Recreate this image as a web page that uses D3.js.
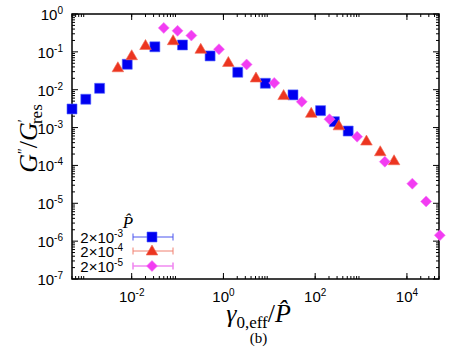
<!DOCTYPE html>
<html>
<head>
<meta charset="utf-8">
<script src="https://cdn.jsdelivr.net/npm/d3@7"></script>
<style>
  body { margin: 0; background: #fff; }
  svg { display: block; }
</style>
</head>
<body>
<div id="chart"></div>
<script>
// data
const xBlue = [5e-4, 1e-3, 2e-3, 8e-3, 0.032, 0.128, 0.512, 2.05, 8.2, 32.8, 131, 262, 524];
const yBlue = [3.1e-3, 5.6e-3, 0.0109, 0.047, 0.136, 0.152, 0.078, 0.0289, 0.0148, 7.3e-3, 2.8e-3, 1.43e-3, 8.1e-4];

const xRed = [5e-3, 1e-2, 0.02, 0.08, 0.32, 1.28, 5.12, 20.5, 82, 328, 1310, 2620, 5240];
const yRed = [0.038, 0.079, 0.147, 0.197, 0.117, 0.0524, 0.0204, 7.0e-3, 2.38e-3, 1.11e-3, 4.4e-4, 2.3e-4, 1.33e-4];

const xMag = [0.05, 0.1, 0.2, 0.8, 3.2, 12.8, 51, 205, 820, 3300, 13100, 26200, 52000];
const yMag = [0.43, 0.36, 0.27, 0.117, 0.0464, 0.0151, 4.8e-3, 1.66e-3, 5.75e-4, 1.26e-4, 3.3e-5, 1.12e-5, 1.43e-6];

const seriesNames = ['2×10', '2×10', '2×10'];
const seriesExps = ['-3', '-4', '-5'];

const xMajor = [1e-2, 1, 1e2, 1e4];
const xMajorExp = ['-2', '0', '2', '4'];
const yMajor = [1, 1e-1, 1e-2, 1e-3, 1e-4, 1e-5, 1e-6, 1e-7];
const yMajorExp = ['0', '-1', '-2', '-3', '-4', '-5', '-6', '-7'];

const width = 463;
const height = 348;
const margin = { top: 14, right: 24, bottom: 69, left: 72 };
const innerWidth = width - margin.left - margin.right;
const innerHeight = height - margin.top - margin.bottom;

const x = d3.scaleLog().domain([5e-4, 5e4]).range([0, innerWidth]);
const y = d3.scaleLog().domain([1e-7, 1]).range([innerHeight, 0]);

const svg = d3.select('#chart')
  .append('svg')
  .attr('width', width)
  .attr('height', height);

const g = svg.append('g')
  .attr('transform', `translate(${margin.left},${margin.top})`);

// minor ticks: on x only in the decade just below each major tic,
// on y in every decade
const xMinor = [];
xMajor.concat([1e6]).forEach((m) => {
  for (let k = 1; k <= 9; k += 1) {
    const v = (m / 100) * k;
    if (v >= 5e-4 && v <= 5e4) xMinor.push(v);
  }
});
const yMinor = [];
for (let e = -7; e < 0; e += 1) {
  for (let k = 2; k <= 9; k += 1) yMinor.push(k * Math.pow(10, e));
}

const tick = g.append('g').attr('stroke', '#000').attr('stroke-width', 1);
// x ticks bottom + top
xMinor.forEach((v) => {
  tick.append('line').attr('x1', x(v)).attr('x2', x(v)).attr('y1', innerHeight).attr('y2', innerHeight - 3);
  tick.append('line').attr('x1', x(v)).attr('x2', x(v)).attr('y1', 0).attr('y2', 3);
});
xMajor.forEach((v) => {
  tick.append('line').attr('x1', x(v)).attr('x2', x(v)).attr('y1', innerHeight).attr('y2', innerHeight - 6);
  tick.append('line').attr('x1', x(v)).attr('x2', x(v)).attr('y1', 0).attr('y2', 6);
});
// y ticks left + right
yMinor.forEach((v) => {
  tick.append('line').attr('x1', 0).attr('x2', 3).attr('y1', y(v)).attr('y2', y(v));
  tick.append('line').attr('x1', innerWidth).attr('x2', innerWidth - 3).attr('y1', y(v)).attr('y2', y(v));
});
yMajor.forEach((v) => {
  tick.append('line').attr('x1', 0).attr('x2', 6).attr('y1', y(v)).attr('y2', y(v));
  tick.append('line').attr('x1', innerWidth).attr('x2', innerWidth - 6).attr('y1', y(v)).attr('y2', y(v));
});

// frame
g.append('rect')
  .attr('width', innerWidth)
  .attr('height', innerHeight)
  .attr('fill', 'none')
  .attr('stroke', '#000')
  .attr('stroke-width', 1.5);

// tick labels
const sans = '"Liberation Sans", Arial, sans-serif';
xMajor.forEach((v, i) => {
  const t = g.append('text')
    .attr('x', x(v))
    .attr('y', innerHeight + 23)
    .attr('text-anchor', 'middle')
    .style('font-family', sans)
    .style('font-size', '15px');
  t.append('tspan').text('10');
  t.append('tspan').attr('dy', -6).style('font-size', '10px').text(xMajorExp[i]);
});
yMajor.forEach((v, i) => {
  const t = g.append('text')
    .attr('x', -9)
    .attr('y', y(v) + 6)
    .attr('text-anchor', 'end')
    .style('font-family', sans)
    .style('font-size', '15px');
  t.append('tspan').text('10');
  t.append('tspan').attr('dy', -6).style('font-size', '10px').text(yMajorExp[i]);
});

// markers
const symSquare = (s) => `M${-s / 2},${-s / 2}h${s}v${s}h${-s}Z`;
const symTri = (s) => `M0,${-s * 0.6}L${s * 0.58},${s * 0.4}L${-s * 0.58},${s * 0.4}Z`;
const symDiamond = (s) => `M0,${-s / 2}L${s / 2},0L0,${s / 2}L${-s / 2},0Z`;

const series = [
  { xs: xBlue, ys: yBlue, path: symSquare(10), fill: '#0000f0', stroke: '#5566ff', line: '#4a55ee', lw: 1 },
  { xs: xRed, ys: yRed, path: symTri(10), fill: '#ec3520', stroke: '#f26a55', line: '#f08070', lw: 1 },
  { xs: xMag, ys: yMag, path: symDiamond(11), fill: '#f23cf2', stroke: '#f57af5', line: '#f08af0', lw: 1.6 },
];

series.forEach((s) => {
  const data = s.xs.map((d, i) => ({ x: d, y: s.ys[i] }));
  g.append('g')
    .selectAll('path')
    .data(data)
    .enter()
    .append('path')
    .attr('d', s.path)
    .attr('transform', (d) => `translate(${x(d.x)},${y(d.y)})`)
    .attr('fill', s.fill)
    .attr('stroke', s.stroke)
    .attr('stroke-width', 0.6);
});

// legend
const serif = '"Liberation Serif", "Times New Roman", serif';
g.append('text')
  .attr('x', 128 - margin.left)
  .attr('y', 228 - margin.top)
  .attr('text-anchor', 'middle')
  .style('font-family', serif)
  .style('font-style', 'italic')
  .style('font-size', '17px')
  .text('P\u0302');

const legendRows = [237, 251, 266];
series.forEach((s, i) => {
  const ly = legendRows[i] - margin.top;
  const lx0 = 133 - margin.left;
  const lx1 = 173 - margin.left;
  const lg = g.append('g');
  lg.append('line').attr('x1', lx0).attr('x2', lx1).attr('y1', ly).attr('y2', ly)
    .attr('stroke', s.line).attr('stroke-width', s.lw);
  [lx0, lx1].forEach((cx) => {
    lg.append('line').attr('x1', cx).attr('x2', cx).attr('y1', ly - 3.5).attr('y2', ly + 3.5)
      .attr('stroke', s.line).attr('stroke-width', s.lw);
  });
  lg.append('path')
    .attr('d', s.path)
    .attr('transform', `translate(${152 - margin.left},${ly})`)
    .attr('fill', s.fill)
    .attr('stroke', s.stroke)
    .attr('stroke-width', 0.6);
  const t = lg.append('text')
    .attr('x', 123 - margin.left)
    .attr('y', ly + 6)
    .attr('text-anchor', 'end')
    .style('font-family', sans)
    .style('font-size', '15px');
  t.append('tspan').text(seriesNames[i]);
  t.append('tspan').attr('dy', -6).style('font-size', '10px').text(seriesExps[i]);
});

// axis titles
const yl = svg.append('text')
  .attr('transform', `translate(37,${margin.top + innerHeight / 2 - 8}) rotate(-90)`)
  .attr('text-anchor', 'middle')
  .style('font-family', serif)
  .style('font-size', '26px');
yl.append('tspan').style('font-style', 'italic').text('G');
yl.append('tspan').attr('dy', -9).style('font-size', '14px').text('\u2033');
yl.append('tspan').attr('dy', 9).text('/');
yl.append('tspan').style('font-style', 'italic').text('G');
yl.append('tspan').attr('dy', -9).style('font-size', '14px').text('\u2032');
yl.append('tspan').attr('dy', 14).attr('dx', -5).style('font-size', '17px').text('res');

const xl = svg.append('text')
  .attr('x', margin.left + innerWidth / 2 + 3)
  .attr('y', 322)
  .attr('text-anchor', 'middle')
  .style('font-family', serif)
  .style('font-size', '26px');
xl.append('tspan').style('font-style', 'italic').text('\u03b3');
xl.append('tspan').attr('dy', 6).style('font-size', '17px').text('0,eff');
xl.append('tspan').attr('dy', -6).text('/');
xl.append('tspan').style('font-style', 'italic').text('P\u0302');

svg.append('text')
  .attr('x', margin.left + innerWidth / 2 + 3)
  .attr('y', 343)
  .attr('text-anchor', 'middle')
  .style('font-family', serif)
  .style('font-size', '15px')
  .text('(b)');
</script>
</body>
</html>
